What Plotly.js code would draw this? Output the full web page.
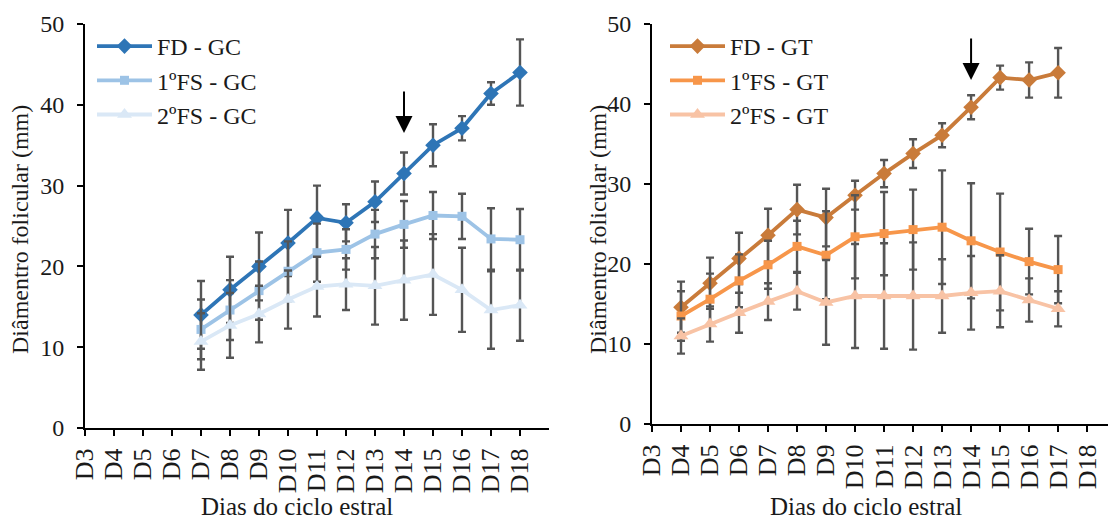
<!DOCTYPE html>
<html>
<head>
<meta charset="utf-8">
<script src="https://cdn.plot.ly/plotly-3.0.1.min.js"></script>
<style>html,body{margin:0;padding:0;background:#fff;}#chart{width:1108px;height:522px;}</style>
</head>
<body>
<div id="chart"></div>
<script>
// ---- categories ----
const allDays = ["D3","D4","D5","D6","D7","D8","D9","D10","D11","D12","D13","D14","D15","D16","D17","D18"];
const daysGC = ["D7","D8","D9","D10","D11","D12","D13","D14","D15","D16","D17","D18"];
const daysGT = ["D4","D5","D6","D7","D8","D9","D10","D11","D12","D13","D14","D15","D16","D17"];

// ---- GC series (mm) ----
const fdGC      = [14.0, 17.1, 20.0, 22.9, 26.0, 25.4, 28.0, 31.5, 35.0, 37.1, 41.4, 44.0];
const fdGCerr   = [4.2, 4.1, 4.2, 4.1, 4.0, 2.3, 2.5, 2.6, 2.6, 1.5, 1.4, 4.1];
const fs1GC     = [12.2, 14.6, 17.0, 19.4, 21.7, 22.1, 24.0, 25.2, 26.3, 26.2, 23.4, 23.3];
const fs1GCerr  = [3.7, 3.7, 3.6, 3.7, 3.6, 2.5, 3.0, 2.9, 2.9, 2.8, 3.8, 3.8];
const fs2GC     = [10.7, 12.7, 14.1, 15.9, 17.5, 17.8, 17.6, 18.3, 19.0, 17.1, 14.6, 15.2];
const fs2GCerr  = [3.5, 4.0, 3.5, 3.6, 3.7, 3.2, 4.8, 4.9, 5.0, 5.2, 4.8, 4.4];

// ---- GT series (mm) ----
const fdGT      = [14.6, 17.6, 20.7, 23.6, 26.8, 25.8, 28.6, 31.3, 33.8, 36.1, 39.6, 43.3, 43.0, 43.9];
const fdGTerr   = [3.2, 3.2, 3.2, 3.3, 3.1, 3.6, 1.8, 1.7, 1.8, 1.5, 1.5, 1.5, 2.2, 3.1];
const fs1GT     = [13.5, 15.6, 17.9, 19.9, 22.2, 21.1, 23.4, 23.8, 24.3, 24.6, 22.9, 21.5, 20.3, 19.3];
const fs1GTerr  = [3.1, 3.2, 3.3, 3.0, 3.2, 5.5, 5.2, 5.2, 5.0, 7.1, 7.2, 7.3, 4.1, 4.2];
const fs2GT     = [11.0, 12.5, 13.9, 15.3, 16.6, 15.2, 16.0, 16.0, 16.0, 16.0, 16.4, 16.6, 15.5, 14.4];
const fs2GTerr  = [2.2, 2.2, 2.5, 2.3, 2.3, 5.3, 6.5, 6.6, 6.7, 4.6, 4.6, 4.5, 2.7, 2.2];

// ---- arrow markers (day, tip value) ----
const arrowGC = {day: "D14", value: 36.5};
const arrowGT = {day: "D14", value: 43.0};

// ---- tick labels / names ----
const yTicks = [0, 10, 20, 30, 40, 50];
const namesGC = ["FD - GC", "1ºFS - GC", "2ºFS - GC"];
const namesGT = ["FD - GT", "1ºFS - GT", "2ºFS - GT"];

const FONT = "Liberation Serif";
const TXT = "#1a1a1a";
const ERRC = "#555555";

function tr(x, y, err, name, color, symbol, msize, xa, ya, leg) {
  return {
    type: "scatter", mode: "lines+markers", x: x, y: y, name: name,
    xaxis: xa, yaxis: ya, legend: leg,
    line: {color: color, width: 3.8},
    marker: {symbol: symbol, size: msize, color: color},
    error_y: {type: "data", array: err, visible: true, color: ERRC, thickness: 2.4, width: 4}
  };
}

const data = [
  tr(daysGC, fdGC, fdGCerr, namesGC[0], "#2E75B6", "diamond", 12, "x", "y", "legend"),
  tr(daysGC, fs1GC, fs1GCerr, namesGC[1], "#9DC3E6", "square", 9, "x", "y", "legend"),
  tr(daysGC, fs2GC, fs2GCerr, namesGC[2], "#DAE8F6", "triangle-up", 13, "x", "y", "legend"),
  tr(daysGT, fdGT, fdGTerr, namesGT[0], "#C97B3A", "diamond", 12, "x2", "y2", "legend2"),
  tr(daysGT, fs1GT, fs1GTerr, namesGT[1], "#F7964A", "square", 9, "x2", "y2", "legend2"),
  tr(daysGT, fs2GT, fs2GTerr, namesGT[2], "#F8C3A5", "triangle-up", 13, "x2", "y2", "legend2")
];

const W = 1108, H = 522;
function xAxis(domain, range) {
  return {
    domain: domain, type: "category", categoryorder: "array", categoryarray: allDays,
    range: range, tickmode: "array", tickvals: allDays, ticktext: allDays,
    showline: true, linecolor: "#000", linewidth: 2,
    ticks: "outside", ticklen: 6, tickwidth: 2, tickcolor: "#000",
    tickangle: -90, tickfont: {family: FONT, size: 26, color: TXT}, ticklabelstandoff: 2,
    showgrid: false, zeroline: false, fixedrange: true
  };
}
function yAxis(domain, anchor) {
  return {
    domain: domain, anchor: anchor, range: [0, 50], tickvals: yTicks,
    showline: true, linecolor: "#000", linewidth: 2,
    ticks: "outside", ticklen: 6, tickwidth: 2, tickcolor: "#000",
    tickfont: {family: FONT, size: 24, color: TXT}, ticklabelstandoff: 8,
    showgrid: false, zeroline: false, fixedrange: true
  };
}
function legendAt(px) {
  return {x: px / W, y: 1 - 24 / H, xanchor: "left", yanchor: "top", itemwidth: 55,
          bgcolor: "rgba(0,0,0,0)", font: {family: FONT, size: 24, color: TXT},
          tracegroupgap: 0, itemsizing: "trace"};
}

const layout = {
  width: W, height: H, margin: {l: 0, r: 0, t: 0, b: 0},
  paper_bgcolor: "#fff", plot_bgcolor: "#fff",
  font: {family: FONT, color: TXT},
  xaxis: Object.assign(xAxis([85 / W, 549 / W], [0, 16]), {anchor: "y"}),
  yaxis: yAxis([1 - 428 / H, 1 - 24 / H], "x"),
  xaxis2: Object.assign(xAxis([652 / W, 1], [0, 15.72]), {anchor: "y2"}),
  yaxis2: yAxis([1 - 424 / H, 1 - 24 / H], "x2"),
  legend: legendAt(92),
  legend2: legendAt(665),
  showlegend: true,
  annotations: [
    {xref: "x", yref: "y", x: arrowGC.day, y: arrowGC.value, ax: 0, ay: -43, text: "",
     showarrow: true, arrowhead: 2, arrowsize: 1.7, arrowwidth: 2, arrowcolor: "#000"},
    {xref: "x2", yref: "y2", x: arrowGT.day, y: arrowGT.value, ax: 0, ay: -43, text: "",
     showarrow: true, arrowhead: 2, arrowsize: 1.7, arrowwidth: 2, arrowcolor: "#000"},
    {xref: "paper", yref: "paper", x: 297 / W, y: 1 - 506 / H, xanchor: "center", yanchor: "middle",
     text: "Dias do ciclo estral", showarrow: false, font: {family: FONT, size: 25, color: TXT}},
    {xref: "paper", yref: "paper", x: 866 / W, y: 1 - 506 / H, xanchor: "center", yanchor: "middle",
     text: "Dias do ciclo estral", showarrow: false, font: {family: FONT, size: 25, color: TXT}},
    {xref: "paper", yref: "paper", x: 20 / W, y: 1 - 230 / H, xanchor: "center", yanchor: "middle",
     text: "Diâmentro folicular (mm)", textangle: -90, showarrow: false,
     font: {family: FONT, size: 24, color: TXT}},
    {xref: "paper", yref: "paper", x: 598 / W, y: 1 - 230 / H, xanchor: "center", yanchor: "middle",
     text: "Diâmentro folicular (mm)", textangle: -90, showarrow: false,
     font: {family: FONT, size: 24, color: TXT}}
  ]
};

Plotly.newPlot("chart", data, layout, {displayModeBar: false, staticPlot: true});
</script>
</body>
</html>
